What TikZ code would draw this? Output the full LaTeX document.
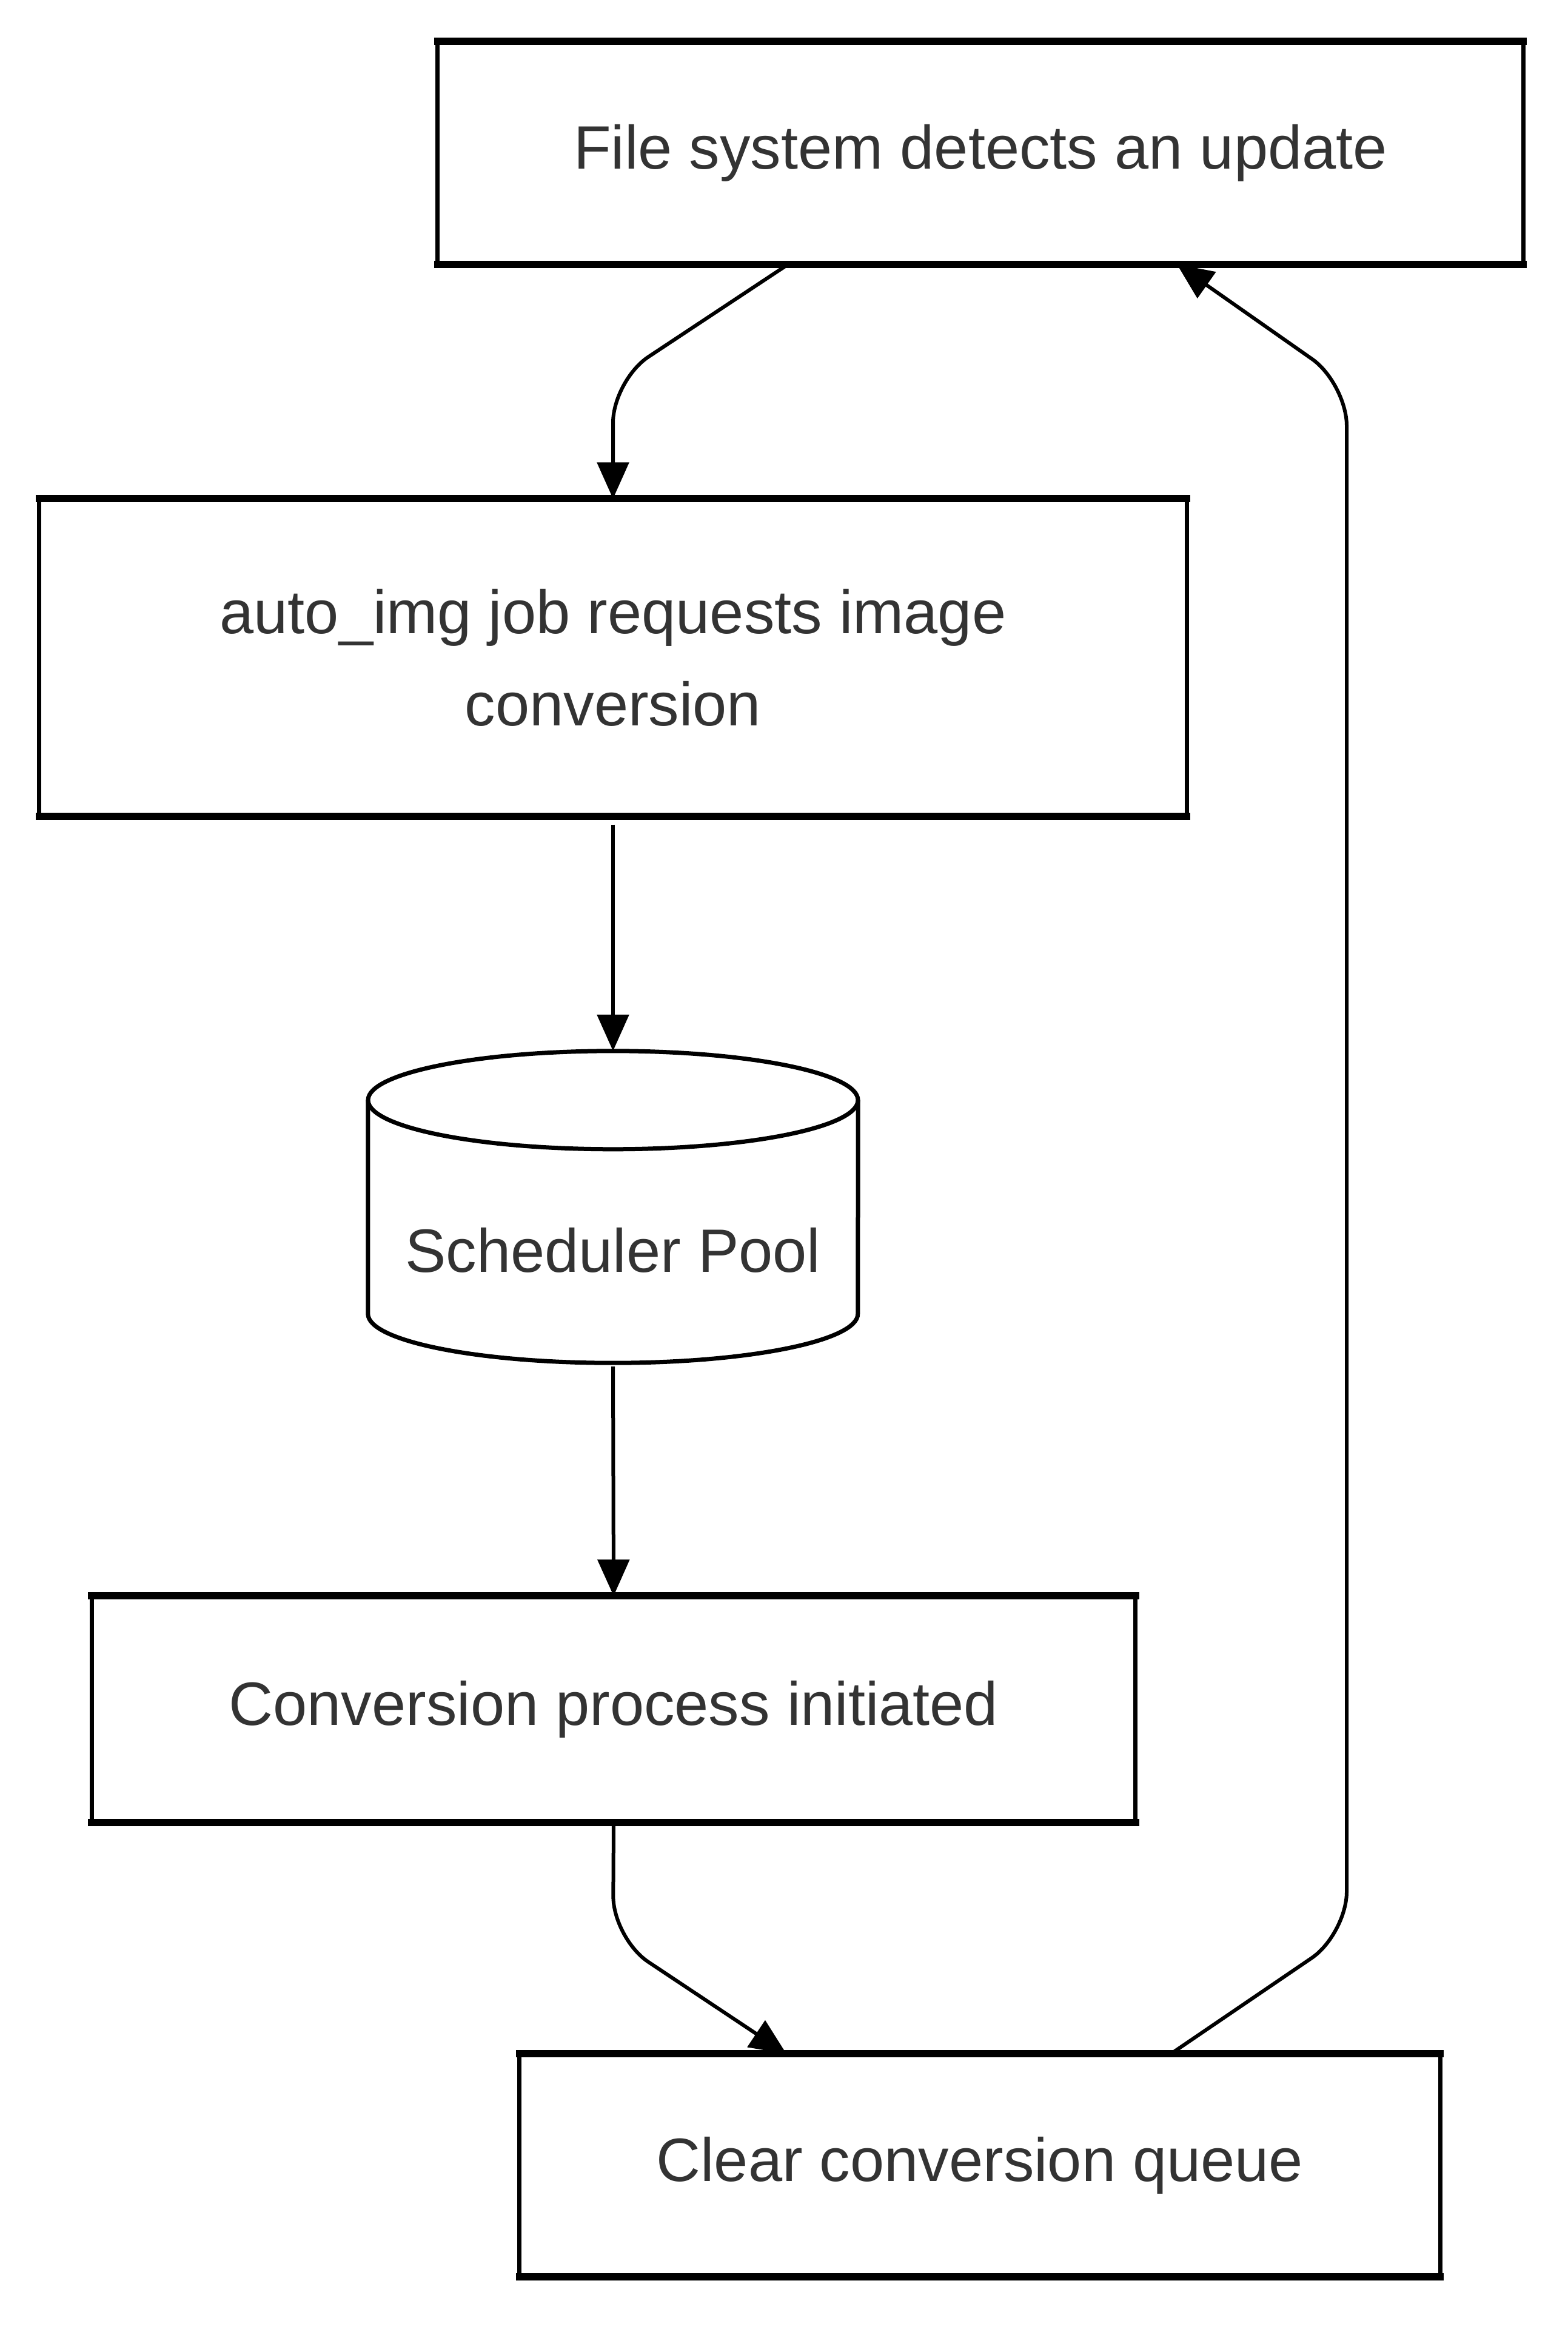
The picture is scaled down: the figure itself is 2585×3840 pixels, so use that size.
\documentclass[tikz,border=0pt]{standalone}
\usepackage{fontspec}
\setmainfont{Liberation Sans}
\usetikzlibrary{arrows.meta,calc}
\definecolor{txt}{HTML}{333333}
\begin{document}
\begin{tikzpicture}[x=1pt,y=-1pt,
  box/.style={rectangle, draw=none, inner sep=0pt, align=center, text=txt,
    font=\fontsize{101}{152}\selectfont},
  sideline/.style={line width=7pt, line cap=round},
  hline/.style={line width=12pt, line cap=rect},
  edge/.style={line width=6pt, rounded corners=70pt,
    -{Triangle[length=60pt,width=52pt]}},
]
\useasboundingbox (0,0) rectangle (2585,3840);

% nodes
\node[box, minimum width=1790pt, minimum height=367pt] (b1) at (1617,252) {\raisebox{-7pt}{File system detects an update}};
\node[box, minimum width=1892pt, minimum height=523pt] (b2) at (1011,1084) {auto\_img job requests image\\conversion};
\node[rectangle, draw=none, minimum width=808pt, minimum height=514pt, inner sep=0pt] (pool) at (1011,1990) {};
\node[box] (poolt) at ([yshift=-71pt]pool.center) {Scheduler Pool};
\node[box, minimum width=1721pt, minimum height=373pt] (b3) at (1012,2818) {\raisebox{-4pt}{Conversion process initiated}};
\node[box, minimum width=1518pt, minimum height=367pt] (b4) at (1616,3570) {\raisebox{-8pt}{Clear conversion queue}};

% box borders
\foreach \n in {b1,b2,b3,b4}{
  \draw[sideline] (\n.north west) -- (\n.south west);
  \draw[sideline] (\n.north east) -- (\n.south east);
  \draw[hline] (\n.north west) -- (\n.north east);
  \draw[hline] (\n.south west) -- (\n.south east);
}

% cylinder
\draw[line width=7pt] ($(pool.north)+(0,81)$) ellipse [x radius=404pt, y radius=81pt];
\draw[line width=7pt] ($(pool.north west)+(0,81)$) -- ($(pool.south west)+(0,-81)$)
  arc[start angle=180, end angle=360, x radius=404pt, y radius=81pt]
  -- ($(pool.north east)+(0,81)$);

% bend coordinates
\coordinate (k1) at (1011,627);
\coordinate (k3) at (1011,3196);
\coordinate (k4) at (2221,3189);
\coordinate (k5) at (2221,632);

% connectors
\draw[edge, shorten <=6pt] ([xshift=-317pt]b1.south) -- (k1) -- (b2.north);
\draw[edge, shorten <=14pt] (b2.south) -- (pool.north);
\draw[edge, shorten <=6pt] (pool.south) -- (b3.north);
\draw[edge, shorten <=6pt] (b3.south) -- (k3) -- ([xshift=-319pt]b4.north);
\draw[edge] ([xshift=315pt]b4.north) -- (k4) -- (k5) -- ([xshift=324pt]b1.south);
\end{tikzpicture}
\end{document}
